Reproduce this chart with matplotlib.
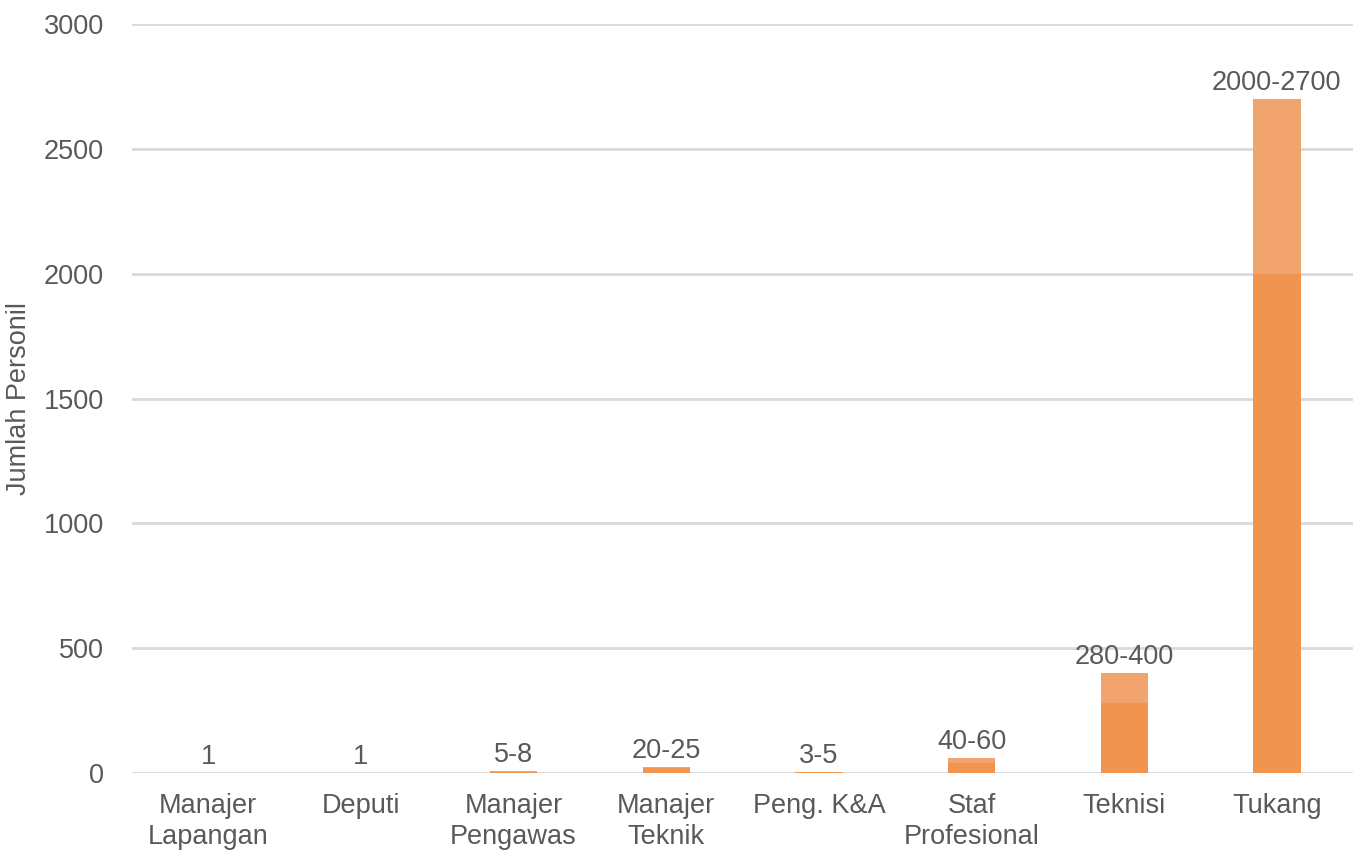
import matplotlib.pyplot as plt
import numpy as np

plt.rcParams['font.family'] = ['Liberation Sans', 'DejaVu Sans']

# Personnel counts per role (lower and upper estimate)
roles = ["Manajer\nLapangan", "Deputi", "Manajer\nPengawas", "Manajer\nTeknik",
         "Peng. K&A", "Staf\nProfesional", "Teknisi", "Tukang"]
low = [1, 1, 5, 20, 3, 40, 280, 2000]
high = [1, 1, 8, 25, 5, 60, 400, 2700]
labels = ["1", "1", "5-8", "20-25", "3-5", "40-60", "280-400", "2000-2700"]

text_color = "#595959"
fs = 19.5
x = np.arange(len(roles))
extra = np.array(high) - np.array(low)

fig, ax = plt.subplots(figsize=(13.6, 8.59), dpi=100)
fig.subplots_adjust(left=0.097, right=0.995, bottom=0.1, top=0.972)

ax.bar(x, low, width=0.31, color="#F0944F", zorder=3)
ax.bar(x, extra, bottom=low, width=0.31, color="#F2A46F", zorder=3)

for xi, top, lab in zip(x, high, labels):
    ax.annotate(lab, (xi, top), xytext=(0, 2), textcoords="offset points",
                ha="center", va="bottom", fontsize=fs, color=text_color)

ax.set_xlim(-0.5, len(roles) - 0.5)
ax.set_ylim(0, 3000)
ax.set_yticks(range(0, 3001, 500))
ax.set_xticks(x)
ax.set_xticklabels(roles, linespacing=1.25)
ax.yaxis.grid(True, color="#D9D9D9", linewidth=2, zorder=0)
ax.set_axisbelow(True)
for s in ax.spines.values():
    s.set_visible(False)
ax.tick_params(axis="both", length=0, labelsize=fs, labelcolor=text_color)
ax.tick_params(axis="y", pad=20)
ax.tick_params(axis="x", pad=14)
ax.set_ylabel("Jumlah Personil", fontsize=fs, color=text_color)
ax.yaxis.set_label_coords(-0.082, 0.5)

plt.savefig("out.png")
